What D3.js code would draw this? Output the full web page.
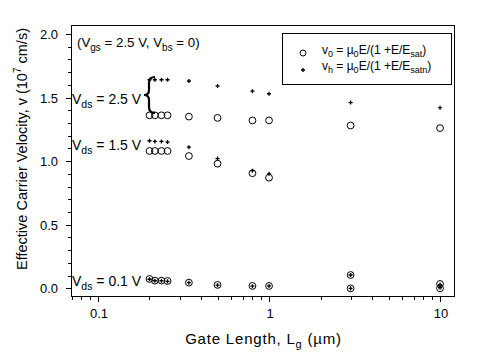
<!DOCTYPE html>
<html lang="en">
<head>
<meta charset="UTF-8">
<script src="https://d3js.org/d3.v7.min.js"></script>
<style>
  body { margin: 0; background: white; }
  svg text { font-family: "Liberation Sans", Arial, sans-serif; fill: #000; }
</style>
</head>
<body>
<div id="chart"></div>
<script>
    const width = 483;
    const height = 362;

    // gate lengths (um) for Vds = 2.5 V and 1.5 V sets
    const gateLen = [0.2, 0.215, 0.235, 0.255, 0.34, 0.5, 0.8, 1, 3, 10];
    const v0_25 = [1.36, 1.36, 1.36, 1.36, 1.35, 1.34, 1.32, 1.32, 1.28, 1.26];
    const vh_25 = [1.64, 1.64, 1.64, 1.64, 1.63, 1.59, 1.55, 1.53, 1.46, 1.42];

    const gateLen15 = [0.2, 0.215, 0.235, 0.255, 0.34, 0.5, 0.8, 1];
    const v0_15 = [1.08, 1.08, 1.08, 1.08, 1.04, 0.98, 0.905, 0.87];
    const vh_15 = [1.16, 1.155, 1.155, 1.15, 1.11, 1.02, 0.925, 0.9];

    // Vds = 0.1 V (two devices at 3 and 10 um)
    const gateLen01 = [0.2, 0.215, 0.235, 0.255, 0.34, 0.5, 0.8, 1, 3, 3, 10, 10];
    const v0_01 = [0.074, 0.061, 0.061, 0.058, 0.045, 0.027, 0.019, 0.019, 0.105, 0.0, 0.035, 0.0];
    const vh_01 = [0.072, 0.060, 0.060, 0.055, 0.045, 0.025, 0.017, 0.019, 0.105, 0.0, 0.03, 0.005];

    const xTicks = [0.1, 1, 10];
    const yTicks = [0, 0.5, 1.0, 1.5, 2.0];

    const margin = {left: 71, right: 29, top: 25, bottom: 66};

    const svg = d3.select("#chart").append("svg")
        .attr("width", width)
        .attr("height", height);

    const x = d3.scaleLog()
        .domain([0.0695, 12.07])
        .range([margin.left, width - margin.right]);
    const y = d3.scaleLinear()
        .domain([-0.06, 2.07])
        .range([height - margin.bottom, margin.top]);

    const x0 = margin.left, x1 = width - margin.right;
    const y0 = height - margin.bottom, y1 = margin.top;

    // frame
    svg.append("rect")
        .attr("x", x0 + 0.5).attr("y", y1 + 0.5)
        .attr("width", x1 - x0).attr("height", y0 - y1)
        .attr("fill", "none").attr("stroke", "#000").attr("stroke-width", 1);

    // x ticks (log, minor at 2..9)
    const minorX = [];
    [0.01, 0.1, 1].forEach(dec => {
        for (let k = 2; k <= 9; k++) minorX.push(dec * k);
    });
    svg.append("g").selectAll("line")
        .data(minorX.filter(v => v >= x.domain()[0] && v <= 10))
        .join("line")
        .attr("x1", d => Math.round(x(d)) + 0.5).attr("x2", d => Math.round(x(d)) + 0.5)
        .attr("y1", y0).attr("y2", y0 + 4)
        .attr("stroke", "#000");
    svg.append("g").selectAll("line")
        .data(xTicks)
        .join("line")
        .attr("x1", d => Math.round(x(d)) + 0.5).attr("x2", d => Math.round(x(d)) + 0.5)
        .attr("y1", y0).attr("y2", y0 + 6)
        .attr("stroke", "#000");
    svg.append("g").selectAll("text")
        .data(xTicks)
        .join("text")
        .attr("x", d => x(d) + 1)
        .attr("y", y0 + 22)
        .attr("text-anchor", "middle")
        .attr("font-size", 13)
        .text(d => d3.format("~g")(d));

    // y ticks
    const minorY = d3.range(0, 21).map(i => i / 10);
    svg.append("g").selectAll("line")
        .data(minorY)
        .join("line")
        .attr("x1", x0 - 3).attr("x2", x0)
        .attr("y1", d => Math.round(y(d)) + 0.5).attr("y2", d => Math.round(y(d)) + 0.5)
        .attr("stroke", "#000");
    svg.append("g").selectAll("line")
        .data(yTicks)
        .join("line")
        .attr("x1", x0 - 5).attr("x2", x0)
        .attr("y1", d => Math.round(y(d)) + 0.5).attr("y2", d => Math.round(y(d)) + 0.5)
        .attr("stroke", "#000");
    svg.append("g").selectAll("text")
        .data(yTicks)
        .join("text")
        .attr("x", 58)
        .attr("y", d => y(d) + 5)
        .attr("text-anchor", "end")
        .attr("font-size", 13)
        .text(d => d3.format(".1f")(d));

    // axis titles
    const xt = svg.append("text")
        .attr("x", (x0 + x1) / 2 + 1)
        .attr("y", 344)
        .attr("text-anchor", "middle")
        .attr("font-size", 15)
        .attr("letter-spacing", 0.8);
    xt.append("tspan").text("Gate Length, L");
    xt.append("tspan").attr("font-size", 11).attr("dy", 4).text("g");
    xt.append("tspan").attr("dy", -4).text(" (\u00b5m)");

    const yt = svg.append("text")
        .attr("transform", "translate(27," + 149 + ") rotate(-90)")
        .attr("text-anchor", "middle")
        .attr("font-size", 14.5);
    yt.append("tspan").text("Effective Carrier Velocity, v (10");
    yt.append("tspan").attr("font-size", 10).attr("dy", -6).text("7");
    yt.append("tspan").attr("dy", 6).text(" cm/s)");

    // markers
    const dotSym = d3.symbol().type(d3.symbolCross).size(9);
    function circles(lens, vals) {
        svg.append("g").selectAll("circle")
            .data(lens.map((l, i) => [l, vals[i]]))
            .join("circle")
            .attr("cx", d => x(d[0]))
            .attr("cy", d => y(d[1]))
            .attr("r", 3.4)
            .attr("fill", "none")
            .attr("stroke", "#000")
            .attr("stroke-width", 1);
    }
    function dots(lens, vals) {
        svg.append("g").selectAll("path")
            .data(lens.map((l, i) => [l, vals[i]]))
            .join("path")
            .attr("transform", d => `translate(${x(d[0])},${y(d[1])})`)
            .attr("d", dotSym)
            .attr("fill", "#000");
    }
    circles(gateLen, v0_25);
    dots(gateLen, vh_25);
    circles(gateLen15, v0_15);
    dots(gateLen15, vh_15);
    circles(gateLen01, v0_01);
    dots(gateLen01, vh_01);

    // annotations
    function subLabel(xp, yp, main, sub, rest) {
        const t = svg.append("text").attr("x", xp).attr("y", yp).attr("font-size", 14);
        t.append("tspan").text(main);
        t.append("tspan").attr("font-size", 10.5).attr("dy", 4).text(sub);
        t.append("tspan").attr("dy", -4).text(rest);
        return t;
    }
    const cond = svg.append("text").attr("x", 77).attr("y", 47).attr("font-size", 13.3);
    cond.append("tspan").text("(V");
    cond.append("tspan").attr("font-size", 10).attr("dy", 4).text("gs");
    cond.append("tspan").attr("dy", -4).text(" = 2.5 V, V");
    cond.append("tspan").attr("font-size", 10).attr("dy", 4).text("bs");
    cond.append("tspan").attr("dy", -4).text(" = 0)");

    subLabel(72, 104, "V", "ds", " = 2.5 V");
    subLabel(72, 150, "V", "ds", " = 1.5 V");
    subLabel(72, 286, "V", "ds", " = 0.1 V");

    // curly brace
    const bx = 149, byT = 77, byB = 113, bm = (byT + byB) / 2;
    svg.append("path")
        .attr("d", `M${bx + 6},${byT} Q${bx},${byT} ${bx},${byT + 6} L${bx},${bm - 5} Q${bx},${bm} ${bx - 5},${bm}` +
                   ` Q${bx},${bm} ${bx},${bm + 5} L${bx},${byB - 6} Q${bx},${byB} ${bx + 6},${byB}`)
        .attr("fill", "none")
        .attr("stroke", "#000")
        .attr("stroke-width", 2.2);

    // legend
    svg.append("rect")
        .attr("x", 282.5).attr("y", 33.5)
        .attr("width", 169).attr("height", 51)
        .attr("fill", "white").attr("stroke", "#000");
    svg.append("circle").attr("cx", 303).attr("cy", 53).attr("r", 3)
        .attr("fill", "none").attr("stroke", "#000");
    svg.append("path").attr("transform", "translate(303,70)").attr("d", dotSym).attr("fill", "#000");

    function legendText(yp, sub, satSub) {
        const t = svg.append("text").attr("x", 322).attr("y", yp).attr("font-size", 12);
        t.append("tspan").text("v");
        t.append("tspan").attr("font-size", 9).attr("dy", 3).text(sub);
        t.append("tspan").attr("dy", -3).text(" = \u00b5");
        t.append("tspan").attr("font-size", 9).attr("dy", 3).text("0");
        t.append("tspan").attr("dy", -3).text("E/(1 +E/E");
        t.append("tspan").attr("font-size", 9).attr("dy", 3).text(satSub);
        t.append("tspan").attr("dy", -3).text(")");
    }
    legendText(54, "0", "sat");
    legendText(70, "h", "satn");
</script>
</body>
</html>
